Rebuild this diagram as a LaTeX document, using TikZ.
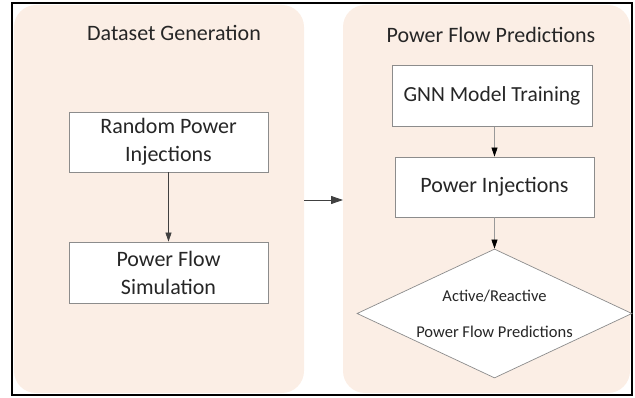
\documentclass[tikz,border=0pt]{standalone}
\usepackage{fontspec}
\setmainfont{Carlito}
\usetikzlibrary{shapes.geometric,arrows.meta}
\definecolor{panelfill}{HTML}{FBEEE5}
\definecolor{boxline}{HTML}{8C8C8C}
\definecolor{txt}{HTML}{262626}
\tikzset{
  panel/.style={fill=panelfill,draw=none,rounded corners=22pt},
  title/.style={text=txt,font=\fontsize{22}{26}\selectfont,inner sep=0pt},
  stepbox/.style={draw=boxline,line width=0.8pt,fill=white,text=txt,align=center,
    font=\fontsize{22}{28}\selectfont,inner sep=0pt},
  decision/.style={diamond,draw=boxline,line width=0.7pt,fill=white,text=txt,align=center,
    inner sep=0pt,aspect=2.13,minimum width=275pt,minimum height=129pt,
    font=\fontsize{16.5}{36}\selectfont},
  flow/.style={draw=black!75,line width=0.7pt,-{Triangle[length=9pt,width=6pt]}},
  flowlight/.style={draw=black!40,line width=0.7pt,-{Triangle[length=9pt,width=6pt,color=black]}},
}
\begin{document}
\begin{tikzpicture}[x=1pt,y=-1pt]
\useasboundingbox (0,0) rectangle (635,398);
% panels
\fill[panel] (14,5) rectangle (304,393);
\fill[panel] (343,5) rectangle (630,393);
% frame
\draw[black,line width=1.4pt] (12,3) rectangle (632,395);
% titles
\node[title] (t1) at (174,33) {Dataset Generation};
\node[title] (t2) at (491,35) {Power Flow Predictions};
% left boxes
\node[stepbox,minimum width=199pt,minimum height=60pt] (rpi) at (168.5,142) {Random Power\\Injections};
\node[stepbox,minimum width=199pt,minimum height=61pt] (pfs) at (168.5,272.5) {Power Flow\\Simulation};
% right boxes
\node[stepbox,minimum width=200pt,minimum height=61pt,font=\fontsize{21.5}{26}\selectfont] (gnn) at (492,96) {GNN Model Training};
\node[stepbox,minimum width=199pt,minimum height=60pt] (pi) at (494.5,187) {Power Injections};
\node[decision] (pred) at (494.5,313.5) {Active/Reactive\\Power Flow Predictions};
% connectors
\draw[flow] (rpi.south) -- (pfs.north);
\draw[flowlight] (gnn.south -| pi.north) -- (pi.north);
\draw[flowlight] (pi.south) -- (pred.north);
\coordinate (ma) at (304,200);
\coordinate (mb) at (343,200);
\draw[draw=black!75,line width=0.8pt,-{Triangle[length=12pt,width=8pt]}] (ma) -- (mb);
\end{tikzpicture}
\end{document}
